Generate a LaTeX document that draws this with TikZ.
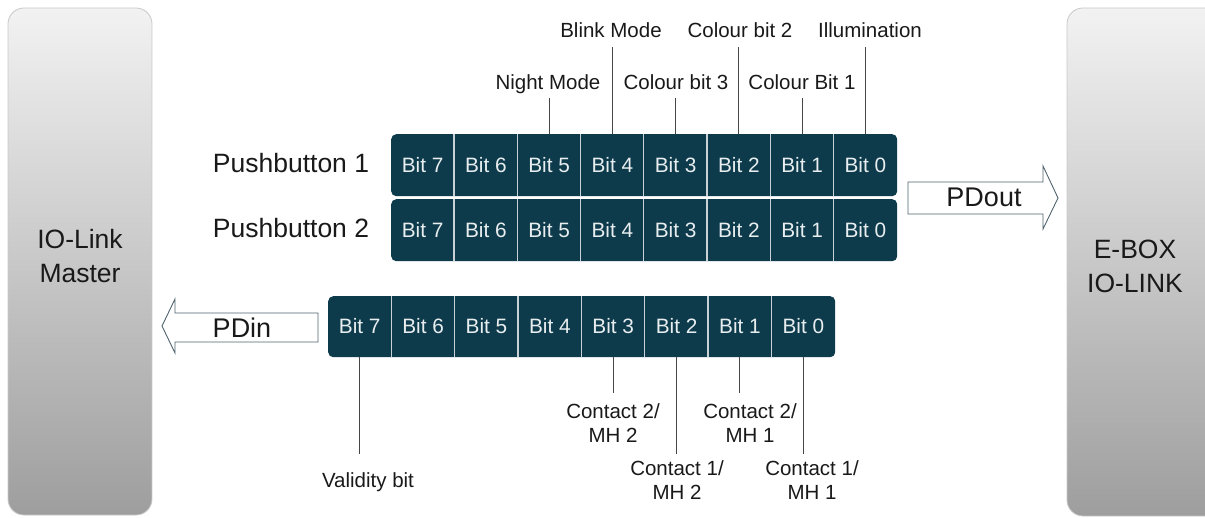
\documentclass[tikz,border=0pt]{standalone}
\usepackage{fontspec}
\setmainfont{Liberation Sans}
\definecolor{reg}{RGB}{14,59,75}
\definecolor{sepc}{RGB}{200,210,214}
\definecolor{txt}{RGB}{25,25,25}
\definecolor{lead}{RGB}{70,70,70}
\definecolor{arr}{RGB}{80,100,110}
\definecolor{celltxt}{RGB}{232,238,240}
\definecolor{boxline}{RGB}{200,200,200}
\definecolor{boxtop}{RGB}{242,242,242}
\definecolor{boxmid}{RGB}{212,212,212}
\definecolor{boxbot}{RGB}{158,158,158}
\begin{document}
\begin{tikzpicture}[x=1pt,y=-1pt,
  sidebox/.style={rounded corners=16pt, draw=boxline, line width=0.8pt,
    top color=boxtop, middle color=boxmid, bottom color=boxbot},
  sidetext/.style={font=\fontsize{26.5}{34}\selectfont, text=txt, align=center, inner sep=0pt, anchor=north},
  regrow/.style={fill=reg, rounded corners=5pt, draw=none, anchor=north west, inner sep=0pt},
  bitcell/.style={text=celltxt, font=\fontsize{20.8}{24}\selectfont, minimum width=63.3pt, minimum height=62pt, inner sep=0pt},
  sepline/.style={draw=sepc, line width=1.3pt},
  lbl/.style={font=\fontsize{20.5}{24}\selectfont, text=txt, inner sep=0pt, align=center},
  bigtext/.style={font=\fontsize{26.5}{32}\selectfont, text=txt, inner sep=0pt, anchor=base},
  leader/.style={draw=lead, line width=0.9pt},
  ioarrow/.style={draw=arr, fill=white, line width=0.9pt, line join=miter}
]
\useasboundingbox (0,0) rectangle (1205,518);
\clip (0,0) rectangle (1205,518);

% side boxes
\path[sidebox] (8,8) rectangle (152,515);
\node[sidetext] (master) at (80,229.5) {IO-Link\\Master};
\path[sidebox] (1067,8) rectangle (1230,516);
\node[sidetext] (ebox) at (1135,239.5) {E-BOX\\IO-LINK};

% row labels
\node[bigtext] (pb1) at (291,173) {Pushbutton 1};
\node[bigtext] (pb2) at (291,238) {Pushbutton 2};

% register rows
\node[regrow, minimum width=506pt, minimum height=62pt] (r1) at (391,134) {};
\node[regrow, minimum width=506pt, minimum height=62pt] (r2) at (391,199) {};
\node[regrow, minimum width=507pt, minimum height=61pt] (r3) at (328,296) {};

\foreach \b [count=\i from 0] in {7,6,5,4,3,2,1,0} {
  \node[bitcell] (a\i) at (391+63.25*\i+31.625,165) {Bit \b};
  \node[bitcell] (c\i) at (391+63.25*\i+31.625,230) {Bit \b};
  \node[bitcell, minimum height=61pt] (b\i) at (328+63.375*\i+31.69,326.5) {Bit \b};
}
\foreach \i in {1,...,7} {
  \draw[sepline] (a\i.north west) -- (a\i.south west);
  \draw[sepline] (c\i.north west) -- (c\i.south west);
  \draw[sepline] (b\i.north west) -- (b\i.south west);
}

% top labels
\node[lbl, anchor=base] (nm) at (548,90) {Night Mode};
\node[lbl, anchor=base] (bm) at (611,38) {Blink Mode};
\node[lbl, anchor=base] (cb3) at (676,90) {Colour bit 3};
\node[lbl, anchor=base] (cb2) at (740,38) {Colour bit 2};
\node[lbl, anchor=base] (cb1) at (802,90) {Colour Bit 1};
\node[lbl, anchor=base] (ill) at (870,38) {Illumination};
\coordinate (tlow) at (0,98);
\coordinate (thigh) at (0,47);
\draw[leader] (a2.north) -- (a2.north |- tlow);
\draw[leader] (a3.north) -- (a3.north |- thigh);
\draw[leader] (a4.north) -- (a4.north |- tlow);
\draw[leader] (a5.north) -- (a5.north |- thigh);
\draw[leader] (a6.north) -- (a6.north |- tlow);
\draw[leader] (a7.north) -- (a7.north |- thigh);

% bottom labels
\node[lbl, anchor=base] (val) at (368,487) {Validity bit};
\node[lbl, anchor=north] (c2m2) at (613,403) {Contact 2/\\MH 2};
\node[lbl, anchor=north] (c1m2) at (677,460) {Contact 1/\\MH 2};
\node[lbl, anchor=north] (c2m1) at (750,403) {Contact 2/\\MH 1};
\node[lbl, anchor=north] (c1m1) at (812,460) {Contact 1/\\MH 1};
\coordinate (bshort) at (0,393);
\coordinate (blong) at (0,454);
\draw[leader] (b0.south) -- (b0.south |- blong);
\draw[leader] (b4.south) -- (b4.south |- bshort);
\draw[leader] (b5.south) -- (b5.south |- blong);
\draw[leader] (b6.south) -- (b6.south |- bshort);
\draw[leader] (b7.south) -- (b7.south |- blong);

% arrows
\draw[ioarrow] (908,182) -- (1043,182) -- (1043,166) -- (1058,198) -- (1043,229) -- (1043,214) -- (908,214) -- cycle;
\node[bigtext, font=\fontsize{27}{32}\selectfont] (pdout) at (984,207) {PDout};
\draw[ioarrow] (318,313) -- (175,313) -- (175,299) -- (162,326) -- (175,353) -- (175,342) -- (318,342) -- cycle;
\node[bigtext, font=\fontsize{27}{32}\selectfont] (pdin) at (242,338) {PDin};
\end{tikzpicture}
\end{document}
